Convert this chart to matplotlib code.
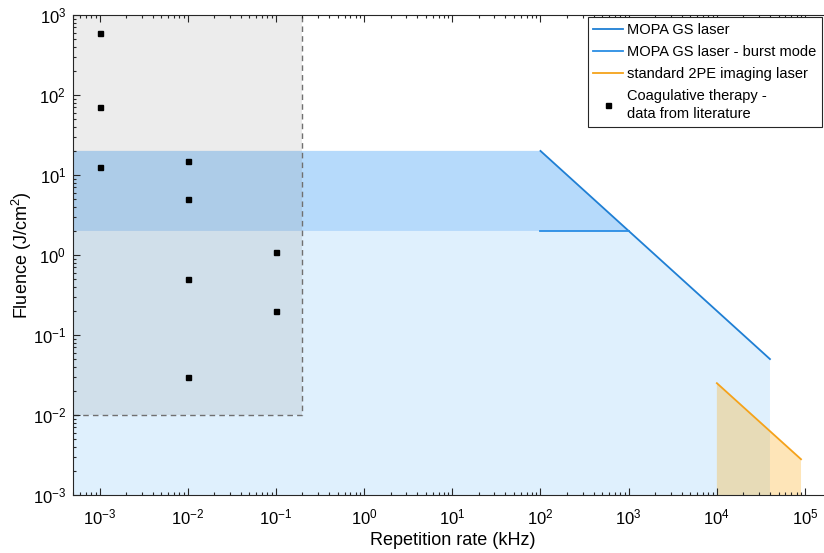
import matplotlib
matplotlib.use('Agg')
import matplotlib.pyplot as plt
from matplotlib.ticker import LogLocator, NullFormatter
import numpy as np

plt.rcParams['font.family'] = ['Liberation Sans', 'DejaVu Sans']
plt.rcParams['mathtext.fontset'] = 'custom'
plt.rcParams['mathtext.rm'] = 'Liberation Sans'
plt.rcParams['mathtext.it'] = 'Liberation Sans:italic'

# data (rep rate in kHz, fluence in J/cm^2)
mopa_rate = [1e2, 4e4]
mopa_fluence = [20, 0.05]
burst_rate = [1e2, 1e3]
burst_fluence = [2, 2]
std_rate = [1e4, 9e4]
std_fluence = [0.025, 0.0028]
coag_rate = [1e-3, 1e-3, 1e-3, 1e-2, 1e-2, 1e-2, 1e-2, 1e-1, 1e-1]
coag_fluence = [600, 70, 12.5, 15, 5, 0.5, 0.03, 1.1, 0.2]
coag_max_rate = 0.2
coag_min_fluence = 0.01
x_decades = [1e-3, 1e-2, 1e-1, 1e0, 1e1, 1e2, 1e3, 1e4, 1e5]
y_decades = [1e-3, 1e-2, 1e-1, 1e0, 1e1, 1e2, 1e3]

xmin, xmax = 5e-4, 2e5
ymin, ymax = 1e-3, 1e3

fig = plt.figure(figsize=(8.24, 5.53), dpi=100)
ax = fig.add_axes([73/824, 1-495/553, (831.6-73)/824, 480/553])

''' shaded regions '''
# MOPA region
ax.fill([xmin, mopa_rate[0], mopa_rate[1], mopa_rate[1], xmin],
        [mopa_fluence[0], mopa_fluence[0], mopa_fluence[1], ymin, ymin],
        color='#dff0fd', lw=0, zorder=1)
# burst band
ax.fill([xmin, burst_rate[0], burst_rate[1], xmin],
        [mopa_fluence[0], mopa_fluence[0], burst_fluence[1], burst_fluence[0]],
        color='#b6dafb', lw=0, zorder=1.1)
# standard 2PE region
ax.fill([std_rate[0], std_rate[0], std_rate[1], std_rate[1]],
        [ymin, std_fluence[0], std_fluence[1], ymin],
        color='#fcac16', alpha=0.3, lw=0, zorder=1.2)
# coagulative therapy region
ax.fill([xmin, coag_max_rate, coag_max_rate, xmin],
        [coag_min_fluence, coag_min_fluence, ymax, ymax],
        color='#808080', alpha=0.15, lw=0, zorder=1.3)
ax.plot([xmin, coag_max_rate, coag_max_rate], [coag_min_fluence, coag_min_fluence, ymax],
        ls=(0, (4, 3)), color='#707070', lw=1, zorder=1.4)

''' lines '''
ax.plot(mopa_rate, mopa_fluence, color='#1f7fd4', lw=1.3, zorder=3, label='MOPA GS laser')
ax.plot(burst_rate, burst_fluence, color='#2a8de4', lw=1.3, zorder=3,
        label='MOPA GS laser - burst mode')
ax.plot(std_rate, std_fluence, color='#f5a21a', lw=1.3, zorder=3,
        label='standard 2PE imaging laser')
ax.plot(coag_rate, coag_fluence, 's', color='k', ms=3.6, ls='none', zorder=4,
        label='Coagulative therapy -\ndata from literature')

ax.set_xscale('log')
ax.set_yscale('log')
ax.set_xlim(xmin, xmax)
ax.set_ylim(ymin, ymax)

ax.set_xticks(x_decades)
ax.set_yticks(y_decades)
for a in (ax.xaxis, ax.yaxis):
    a.set_minor_locator(LogLocator(base=10, subs=np.arange(2, 10), numticks=30))
    a.set_minor_formatter(NullFormatter())

ax.tick_params(which='both', direction='in', top=True, right=True, color='#262626',
               labelsize=12, width=0.8)
ax.tick_params(which='major', length=5)
ax.tick_params(axis='x', which='major', pad=9)
ax.tick_params(axis='y', which='major', pad=5)
ax.tick_params(which='minor', length=2.5)
for s in ax.spines.values():
    s.set_color('#262626')
    s.set_linewidth(0.8)

ax.set_xlabel('Repetition rate (kHz)', fontsize=13, labelpad=3)
ax.set_ylabel('Fluence (J/cm$^2$)', fontsize=13)
ax.yaxis.set_label_coords(-0.051, 0.5)

leg = ax.legend(loc='upper right', bbox_to_anchor=(822/824, 1-17/553),
                bbox_transform=fig.transFigure, fontsize=10.5, fancybox=False,
                framealpha=1, edgecolor='#262626', labelspacing=0.55,
                handlelength=2.0, handletextpad=0.3, borderpad=0.4, borderaxespad=0)
leg.get_frame().set_linewidth(0.8)
for t in leg.get_texts():
    t.set_linespacing(1.35)

fig.savefig('out.png', dpi=100)
